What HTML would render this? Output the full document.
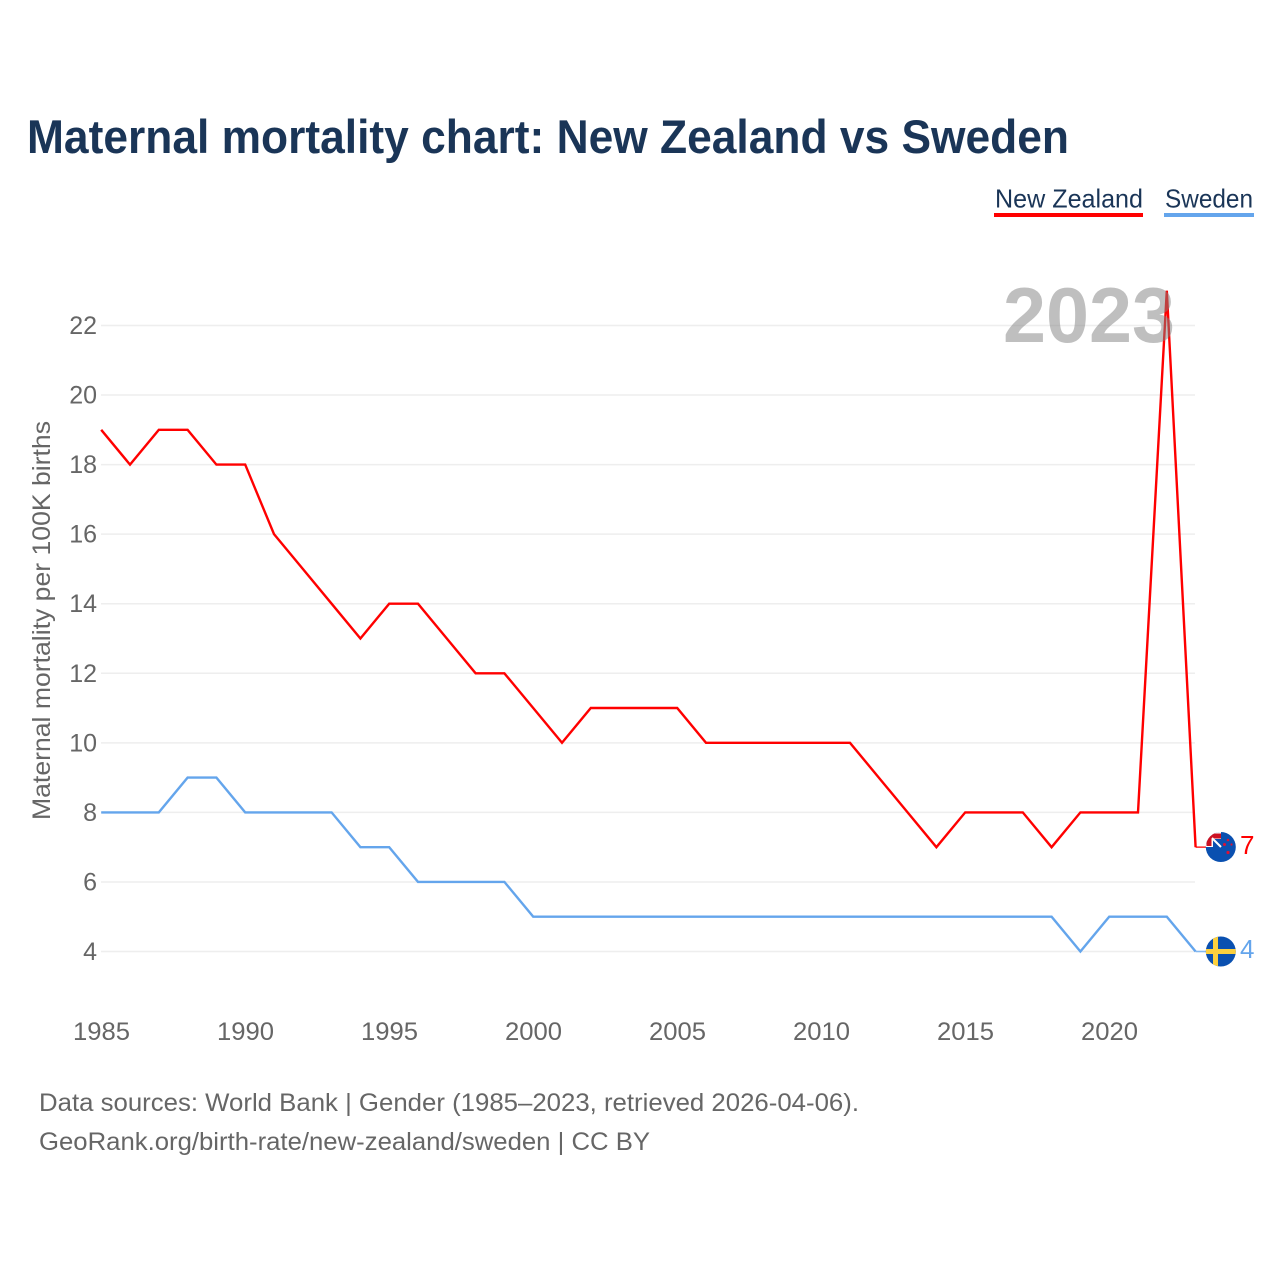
<!DOCTYPE html>
<html lang="en">
<head>
<meta charset="utf-8">
<title>Maternal mortality chart: New Zealand vs Sweden</title>
<style>
html,body{margin:0;padding:0;background:#fff;}
#chart{display:block;width:1280px;height:1280px;font-family:"Liberation Sans",sans-serif;}
</style>
</head>
<body>
<svg id="chart" xmlns="http://www.w3.org/2000/svg" width="1280" height="1280" viewBox="0 0 1280 1280">
  <rect x="0" y="0" width="1280" height="1280" fill="#fff"/>
  <text x="27" y="153" font-size="47" font-weight="700" fill="#1a3557" textLength="1042" lengthAdjust="spacingAndGlyphs">Maternal mortality chart: New Zealand vs Sweden</text>

  <g>
    <text x="995" y="207.5" font-size="26" fill="#1a3557" textLength="148" lengthAdjust="spacingAndGlyphs">New Zealand</text>
    <rect x="994" y="213" width="149" height="4" fill="#ff0000"/>
  </g>
  <g>
    <text x="1165" y="207.5" font-size="26" fill="#1a3557" textLength="88" lengthAdjust="spacingAndGlyphs">Sweden</text>
    <rect x="1164" y="213" width="90" height="4" fill="#64a5ec"/>
  </g>

  <g id="grid"></g>
  <g id="yTicks"></g>
  <g id="xTicks"></g>

  <text transform="translate(50 820) rotate(-90)" x="0" y="0" font-size="25" fill="#666" textLength="399" lengthAdjust="spacingAndGlyphs">Maternal mortality per 100K births</text>

  <g id="series"></g>

  <text x="1003" y="342" font-size="78" font-weight="700" fill="#808080" fill-opacity="0.5" textLength="172" lengthAdjust="spacingAndGlyphs">2023</text>

  <defs>
    <clipPath id="clipNz"><circle cx="1220.8" cy="847" r="15"/></clipPath>
    <clipPath id="clipSe"><circle cx="1220.8" cy="951.5" r="15"/></clipPath>
  </defs>
  <g id="flagNz">
    <g clip-path="url(#clipNz)">
      <rect x="1205" y="832" width="31" height="30" fill="#0a50b0"/>
      <rect x="1205" y="832" width="16" height="15" fill="#fff"/>
      <path d="M1209 846V836H1221" fill="none" stroke="#cc1122" stroke-width="5"/>
      <rect x="1213" y="839" width="8" height="8" fill="#0a50b0"/>
      <path d="M1212 838L1221 847" stroke="#fff" stroke-width="2"/>
      <circle cx="1228" cy="840" r="1.3" fill="#dd1133"/>
      <circle cx="1224.5" cy="844.5" r="1.5" fill="#dd1133"/>
      <circle cx="1231.5" cy="844.5" r="1.1" fill="#dd1133"/>
      <circle cx="1228" cy="852.5" r="1.6" fill="#dd1133"/>
    </g>
  </g>
  <g id="flagSe">
    <g clip-path="url(#clipSe)">
      <rect x="1205" y="936" width="32" height="31" fill="#0a50b0"/>
      <rect x="1213" y="936" width="5" height="31" fill="#fcd03e"/>
      <rect x="1205" y="949" width="32" height="5" fill="#fcd03e"/>
    </g>
  </g>
  <text id="endNz" x="1240" y="853.5" font-size="26" fill="#ff0000"></text>
  <text id="endSe" x="1240" y="958" font-size="26" fill="#64a5ec"></text>

  <text x="39" y="1111" font-size="25" fill="#666" textLength="820" lengthAdjust="spacingAndGlyphs">Data sources: World Bank | Gender (1985–2023, retrieved 2026-04-06).</text>
  <text x="39" y="1150" font-size="25" fill="#666" textLength="611" lengthAdjust="spacingAndGlyphs">GeoRank.org/birth-rate/new-zealand/sweden | CC BY</text>
</svg>
<script>
var years = [1985,1986,1987,1988,1989,1990,1991,1992,1993,1994,1995,1996,1997,1998,1999,2000,2001,2002,2003,2004,2005,2006,2007,2008,2009,2010,2011,2012,2013,2014,2015,2016,2017,2018,2019,2020,2021,2022,2023];
var newZealand = [19,18,19,19,18,18,16,15,14,13,14,14,13,12,12,11,10,11,11,11,11,10,10,10,10,10,10,9,8,7,8,8,8,7,8,8,8,23,7];
var sweden = [8,8,8,9,9,8,8,8,8,7,7,6,6,6,6,5,5,5,5,5,5,5,5,5,5,5,5,5,5,5,5,5,5,5,4,5,5,5,4];
var yTickValues = [22,20,18,16,14,12,10,8,6,4];
var xTickValues = [1985,1990,1995,2000,2005,2010,2015,2020];

var NS = 'http://www.w3.org/2000/svg';
function xScale(year){ return 101.2 + (year - 1985) * 28.8; }
function yScale(v){ return 951.5 - (v - 4) * 34.78; }
function make(tag, attrs, parent){
  var el = document.createElementNS(NS, tag);
  for (var k in attrs) el.setAttribute(k, attrs[k]);
  parent.appendChild(el);
  return el;
}

var grid = document.getElementById('grid');
var yTicks = document.getElementById('yTicks');
yTickValues.forEach(function(v){
  var line = make('line', {x1:101, x2:1195, y1:yScale(v), y2:yScale(v), stroke:'#eeeeee', 'stroke-width':1.5}, grid);
  
  
  var t = make('text', {x:97, y:yScale(v)+8.5, 'text-anchor':'end', 'font-size':25, fill:'#666'}, yTicks);
  
  
  t.textContent = v;
});

var xTicks = document.getElementById('xTicks');
xTickValues.forEach(function(y){
  var t = make('text', {x:101.5 + (y - 1985) * 28.8, y:1040, 'text-anchor':'middle', 'font-size':25, fill:'#666', textLength:57, lengthAdjust:'spacingAndGlyphs'}, xTicks);
  
  
  t.textContent = y;
});

var seriesGroup = document.getElementById('series');
function drawSeries(values, color, name){
  var pts = values.map(function(v,i){ return xScale(years[i]).toFixed(1) + ',' + yScale(v).toFixed(1); });
  var last = values[values.length-1];
  var line = make('polyline', {points:pts.join(' '), fill:'none', stroke:color, 'stroke-width':2.4, 'stroke-linejoin':'miter', 'stroke-miterlimit':10}, seriesGroup);
  
  
  var lx = xScale(years[years.length-1]);
  var leader = make('line', {x1:lx, x2:lx+11, y1:yScale(last), y2:yScale(last), stroke:color, 'stroke-width':1.6, 'stroke-opacity':0.8}, seriesGroup);
  
  
}
drawSeries(sweden, '#64a5ec', 'sweden');
drawSeries(newZealand, '#ff0000', 'new-zealand');

var lastNz = newZealand[newZealand.length-1];
var lastSe = sweden[sweden.length-1];
var endNz = document.getElementById('endNz');
var endSe = document.getElementById('endSe');
endNz.textContent = lastNz;
endSe.textContent = lastSe;
endNz.setAttribute('y', yScale(lastNz) + 7);
endSe.setAttribute('y', yScale(lastSe) + 6.5);
document.getElementById('flagNz').setAttribute('transform', 'translate(0 ' + (yScale(lastNz) - yScale(7)) + ')');
document.getElementById('flagSe').setAttribute('transform', 'translate(0 ' + (yScale(lastSe) - yScale(4)) + ')');
</script>
</body>
</html>
